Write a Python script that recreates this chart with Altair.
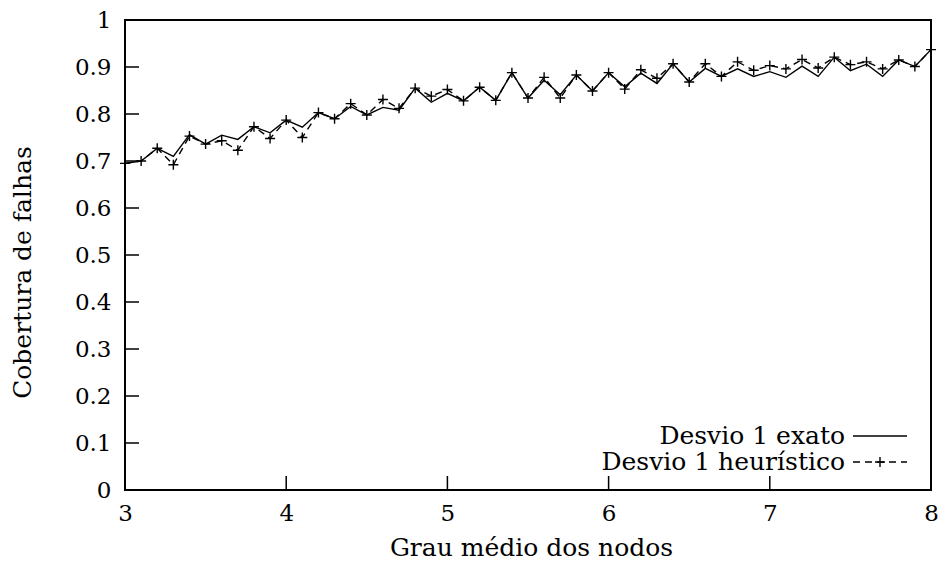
import altair as alt
import pandas as pd

grau = [3.0, 3.1, 3.2, 3.3, 3.4, 3.5, 3.6, 3.7, 3.8, 3.9,
        4.0, 4.1, 4.2, 4.3, 4.4, 4.5, 4.6, 4.7, 4.8, 4.9,
        5.0, 5.1, 5.2, 5.3, 5.4, 5.5, 5.6, 5.7, 5.8, 5.9,
        6.0, 6.1, 6.2, 6.3, 6.4, 6.5, 6.6, 6.7, 6.8, 6.9,
        7.0, 7.1, 7.2, 7.3, 7.4, 7.5, 7.6, 7.7, 7.8, 7.9, 8.0]
exato = [0.695, 0.700, 0.727, 0.710, 0.756, 0.736, 0.755, 0.746, 0.773, 0.760,
         0.787, 0.772, 0.803, 0.790, 0.816, 0.798, 0.814, 0.808, 0.855, 0.825,
         0.844, 0.828, 0.857, 0.829, 0.888, 0.834, 0.872, 0.841, 0.883, 0.849,
         0.888, 0.858, 0.887, 0.865, 0.907, 0.868, 0.897, 0.880, 0.896, 0.880,
         0.890, 0.878, 0.902, 0.880, 0.921, 0.892, 0.906, 0.880, 0.915, 0.901, 0.937]
heuristico = [0.695, 0.700, 0.727, 0.692, 0.753, 0.736, 0.743, 0.723, 0.773, 0.748,
              0.787, 0.750, 0.803, 0.790, 0.822, 0.798, 0.831, 0.812, 0.855, 0.838,
              0.852, 0.828, 0.857, 0.829, 0.888, 0.834, 0.878, 0.834, 0.883, 0.849,
              0.888, 0.853, 0.894, 0.876, 0.907, 0.868, 0.907, 0.880, 0.911, 0.893,
              0.903, 0.896, 0.916, 0.898, 0.921, 0.905, 0.911, 0.896, 0.915, 0.901, 0.937]
series_names = ["Desvio 1 exato", "Desvio 1 heurístico"]
x_ticks = [3, 4, 5, 6, 7, 8]
y_ticks = [0, 0.1, 0.2, 0.3, 0.4, 0.5, 0.6, 0.7, 0.8, 0.9, 1]

FONT = "DejaVu Serif"
W, H = 806, 470

df_e = pd.DataFrame({"x": grau, "y": exato})
df_h = pd.DataFrame({"x": grau, "y": heuristico})

xs = alt.Scale(domain=[3, 8], nice=False)
ys = alt.Scale(domain=[0, 1], nice=False)

xax = alt.Axis(values=x_ticks, title="Grau médio dos nodos", format="d",
               labelPadding=12, labelFlush=False,
               titleX=W / 2 + 3, titleY=57, titleBaseline="middle")
yax = alt.Axis(values=y_ticks, title="Cobertura de falhas", format="~g",
               labelPadding=14, labelFlush=False,
               titleX=-103, titleY=252, titleAngle=-90,
               titleAlign="center", titleBaseline="middle")

line_e = alt.Chart(df_e).mark_line(color="black", strokeWidth=1.4).encode(
    x=alt.X("x:Q", scale=xs, axis=xax),
    y=alt.Y("y:Q", scale=ys, axis=yax),
)
line_h = alt.Chart(df_h).mark_line(color="black", strokeWidth=1.4,
                                   strokeDash=[7, 5]).encode(
    x=alt.X("x:Q", scale=xs),
    y=alt.Y("y:Q", scale=ys),
)
plus = "M-1,0L1,0M0,-1L0,1"
pts_h = alt.Chart(df_h).mark_point(shape=plus, color="black", filled=False,
                                   size=100, strokeWidth=1.4, opacity=1).encode(
    x=alt.X("x:Q", scale=xs),
    y=alt.Y("y:Q", scale=ys),
)

# inward ticks
df_yt = pd.DataFrame({"v": y_ticks[1:-1]})
df_xt = pd.DataFrame({"v": x_ticks[1:-1]})
ytick = alt.Chart(df_yt).mark_tick(color="black", size=14, thickness=1.5, opacity=1).encode(
    y=alt.Y("v:Q", scale=ys), x=alt.value(7))
xtick = alt.Chart(df_xt).mark_tick(color="black", size=14, thickness=1.5, opacity=1).encode(
    x=alt.X("v:Q", scale=xs), y=alt.value(H - 7))

# legend
df_l1 = pd.DataFrame({"name": [series_names[0]]})
df_l2 = pd.DataFrame({"name": [series_names[1]]})
leg_t1 = alt.Chart(df_l1).mark_text(font=FONT, fontSize=25, align="right",
                                    baseline="middle", color="black").encode(
    text="name:N", x=alt.value(720), y=alt.value(416))
leg_t2 = alt.Chart(df_l2).mark_text(font=FONT, fontSize=25, align="right",
                                    baseline="middle", color="black").encode(
    text="name:N", x=alt.value(720), y=alt.value(442))
leg_r1 = alt.Chart(df_l1).mark_rule(color="black", strokeWidth=1.4).encode(
    x=alt.value(728), x2=alt.value(782), y=alt.value(416))
leg_r2 = alt.Chart(df_l2).mark_rule(color="black", strokeWidth=1.4,
                                    strokeDash=[7, 5]).encode(
    x=alt.value(728), x2=alt.value(782), y=alt.value(442))
leg_p2 = alt.Chart(df_l2).mark_point(shape=plus, color="black", filled=False,
                                     size=100, strokeWidth=1.4, opacity=1).encode(
    x=alt.value(755), y=alt.value(442))

chart = alt.layer(
    ytick, xtick, line_e, line_h, pts_h, leg_t1, leg_t2, leg_r1, leg_r2, leg_p2
).properties(
    width=W, height=H,
    background="white",
    autosize=alt.AutoSizeParams(type="none"),
    padding={"left": 117, "top": 12, "right": 9, "bottom": 70},
).configure_view(
    stroke="black", strokeWidth=2
).configure_axis(
    grid=False, domain=False, ticks=False,
    labelFont=FONT, labelFontSize=23, labelColor="black",
    titleFont=FONT, titleFontSize=25, titleColor="black", titleFontWeight="normal",
)

chart.save("out.html", embed_options={"renderer": "svg", "actions": False})
